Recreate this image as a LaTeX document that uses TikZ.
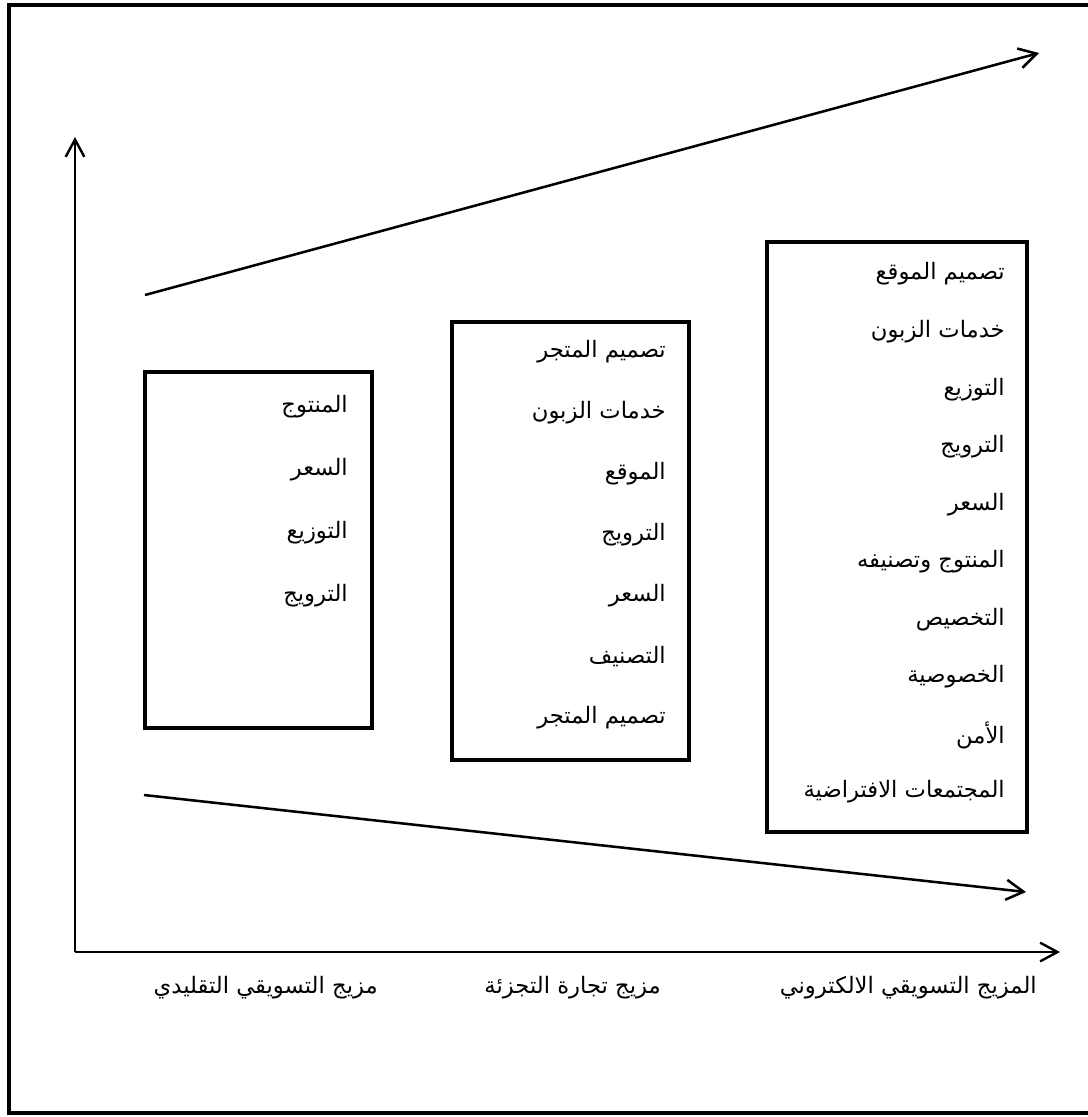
\documentclass[tikz,border=0pt]{standalone}
\usepackage{fontspec}
\setmainfont{DejaVu Sans}
\newfontfamily\arabicfont[Script=Arabic]{DejaVu Sans}
\TeXXeTstate=1
\usetikzlibrary{arrows.meta}
\newcommand{\ar}[1]{{\arabicfont\beginR #1\endR}}
\begin{document}
\begin{tikzpicture}[x=0.75pt,y=-0.75pt,
  frame/.style={line width=3.6pt},
  colbox/.style={draw,line width=3.6pt,inner sep=0pt},
  arr/.style={line width=1.9pt,-{Straight Barb[length=13pt,width=15pt]}},
  axisline/.style={line width=1.8pt,-{Straight Barb[length=13pt,width=14pt]}},
  item/.style={anchor=east,inner sep=0pt,font=\arabicfont\fontsize{17}{20}\selectfont},
  lab/.style={anchor=east,inner sep=0pt,font=\arabicfont\fontsize{17}{20}\selectfont}]
\useasboundingbox (0,0) rectangle (1088,1117);
\draw[frame] (9,5) rectangle (1092,1113);
% axes
\coordinate (O) at (75,952);
\coordinate (Ytip) at (75,137);
\coordinate (Xtip) at (1060,952);
\draw[axisline] (O) -- (Ytip);
\draw[axisline] (O) -- (Xtip);
% trend arrows
\coordinate (U1) at (145,295);
\coordinate (U2) at (1039,53);
\coordinate (L1) at (144,795);
\coordinate (L2) at (1026,892);
\draw[arr] (U1) -- (U2);
\draw[arr] (L1) -- (L2);
% boxes
\node[colbox,minimum width=170.25pt,minimum height=267pt] (b1) at (258.5,550) {};
\node[colbox,minimum width=177.75pt,minimum height=328.5pt] (b2) at (570.5,541) {};
\node[colbox,minimum width=195pt,minimum height=442.5pt] (b3) at (897,537) {};
% box 1
\node[item] (a1) at (348,407) {\ar{المنتوج}};
\node[item] (a2) at (348,470) {\ar{السعر}};
\node[item] (a3) at (348,533) {\ar{التوزيع}};
\node[item] (a4) at (348,596) {\ar{الترويج}};
% box 2
\node[item] (c1) at (666,352) {\ar{تصميم المتجر}};
\node[item] (c2) at (666,413) {\ar{خدمات الزبون}};
\node[item] (c3) at (666,474) {\ar{الموقع}};
\node[item] (c4) at (666,535) {\ar{الترويج}};
\node[item] (c5) at (666,596) {\ar{السعر}};
\node[item] (c6) at (666,657) {\ar{التصنيف}};
\node[item] (c7) at (666,718) {\ar{تصميم المتجر}};
% box 3
\node[item] (e1) at (1005,274) {\ar{تصميم الموقع}};
\node[item] (e2) at (1005,332) {\ar{خدمات الزبون}};
\node[item] (e3) at (1005,390) {\ar{التوزيع}};
\node[item] (e4) at (1005,447) {\ar{الترويج}};
\node[item] (e5) at (1005,505) {\ar{السعر}};
\node[item] (e6) at (1005,562) {\ar{المنتوج وتصنيفه}};
\node[item] (e7) at (1005,620) {\ar{التخصيص}};
\node[item] (e8) at (1005,677) {\ar{الخصوصية}};
\node[item] (e9) at (1005,735) {\ar{الأمن}};
\node[item] (e10) at (1005,792) {\ar{المجتمعات الافتراضية}};
% axis labels
\node[lab] (x1) at (378,988) {\ar{مزيج التسويقي التقليدي}};
\node[lab] (x2) at (661,988) {\ar{مزيج تجارة التجزئة}};
\node[lab] (x3) at (1037,988) {\ar{المزيج التسويقي الالكتروني}};
\end{tikzpicture}
\end{document}
